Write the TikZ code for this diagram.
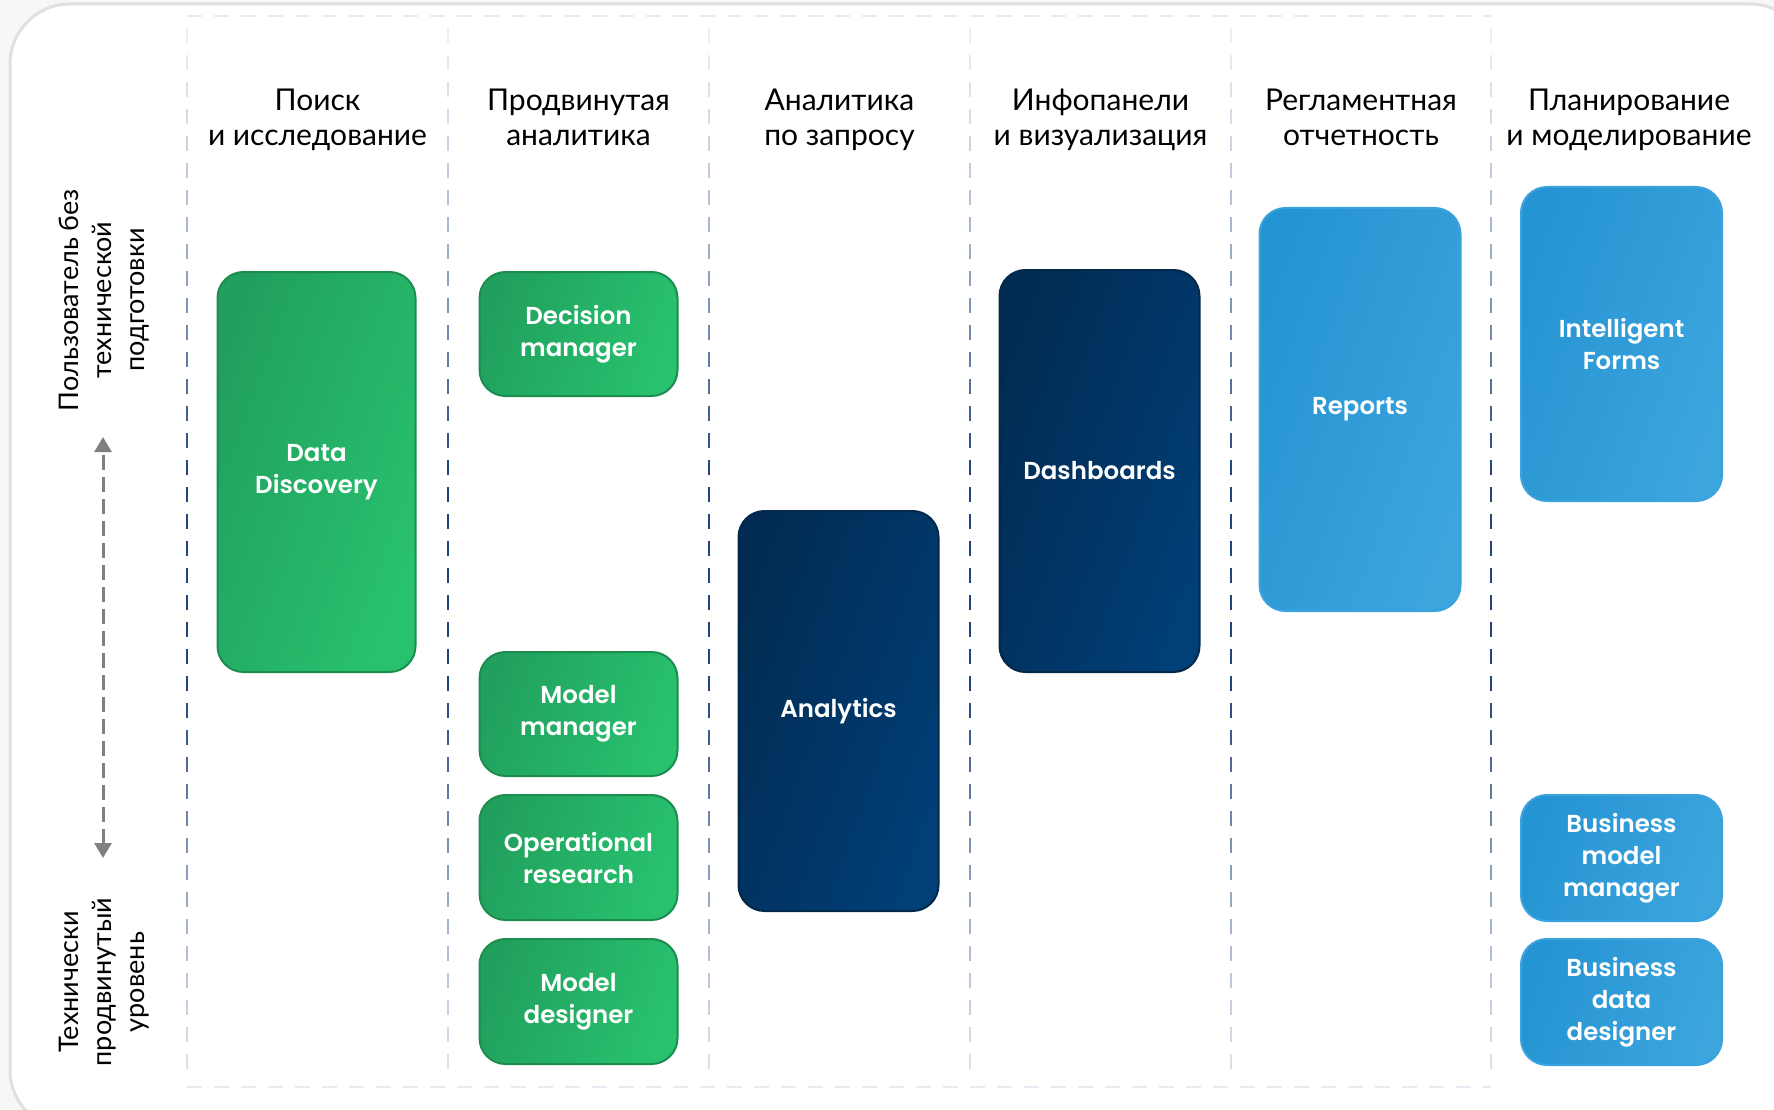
\documentclass[tikz,border=0pt]{standalone}
\usepackage{fontspec}
\setmainfont{Lato}
\newfontfamily\boxfont{Poppins SemiBold}
\usetikzlibrary{arrows.meta}
\definecolor{pagebg}{HTML}{F7F7F7}
\definecolor{cardline}{HTML}{E0E0E0}
\definecolor{faint}{HTML}{E6EAF1}
\definecolor{divdark}{HTML}{23457A}
\definecolor{divlight}{HTML}{EBEFF5}
\definecolor{greenA}{HTML}{21A05D}
\definecolor{greenB}{HTML}{28C26F}
\definecolor{greenE}{HTML}{1D8C4F}
\definecolor{navyA}{HTML}{012B52}
\definecolor{navyB}{HTML}{013F77}
\definecolor{navyE}{HTML}{02284A}
\definecolor{blueA}{HTML}{2594D2}
\definecolor{blueB}{HTML}{3CA5DE}
\definecolor{blueE}{HTML}{3AA2DC}
\definecolor{arrgray}{HTML}{808080}
\tikzset{
  hdr/.style={align=center, text=black, font=\fontsize{30}{35}\selectfont},
  sidetext/.style={align=center, text=black, rotate=90, font=\fontsize{27}{33}\selectfont},
  card/.style={rounded corners=26pt, line width=2pt, align=center, text=white,
    font=\boxfont\fontsize{24.5}{32}\selectfont, inner sep=0pt, shading angle=70},
  greenbox/.style={card, draw=greenE, left color=greenA, right color=greenB, shading angle=70, minimum width=198pt},
  navybox/.style={card, draw=navyE, left color=navyA, right color=navyB, shading angle=70, minimum width=200pt},
  bluebox/.style={card, draw=blueE, left color=blueA, right color=blueB, shading angle=70, minimum width=201pt},
  faintline/.style={faint, line width=2pt, dash pattern=on 15pt off 12pt},
  levelarrow/.style={arrgray, line width=3pt, dash pattern=on 15pt off 7pt,
    {Triangle[width=17pt,length=15pt]}-{Triangle[width=17pt,length=15pt]}}
}
\begin{document}
\begin{tikzpicture}[x=1pt,y=-1pt]
\useasboundingbox (0,0) rectangle (1774,1110);
\fill[pagebg] (0,0) rectangle (1774,1110);
\draw[cardline, line width=3pt, fill=white, rounded corners=60pt] (10,4) rectangle (1810,1130);

% faint horizontal dashes
\draw[faintline] (187,16) -- (1491,16);
\draw[faintline] (187,1087) -- (1491,1087);

% gradient dashed dividers
\foreach \x in {187,448,709,970,1231,1491}{
  \foreach \i in {0,...,38}{
    \pgfmathsetmacro\ya{28+27*\i}
    \pgfmathsetmacro\yb{\ya+15}
    \pgfmathsetmacro\u{min(1,max(0,1.25*(1-abs(\ya+7-580)/560)))}
    \pgfmathtruncatemacro\t{100*\u^1.4}
    \draw[line width=2.5pt, color=divdark!\t!divlight] (\x,\ya) -- (\x,\yb);
  }
}

% column headers
\node[hdr] (h1) at (317.5,121.5) {Поиск\strut\\и исследование\strut};
\node[hdr] (h2) at (578.5,121.5) {Продвинутая\strut\\аналитика\strut};
\node[hdr] (h3) at (839.5,121.5) {Аналитика\strut\\по запросу\strut};
\node[hdr] (h4) at (1100.5,121.5) {Инфопанели\strut\\и визуализация\strut};
\node[hdr] (h5) at (1361,121.5) {Регламентная\strut\\отчетность\strut};
\node[hdr] (h6) at (1629,121.5) {Планирование\strut\\и моделирование\strut};

% side labels
\node[sidetext] (novice) at (104,300) {Пользователь без\\технической\\подготовки};
\node[sidetext] (expert) at (104,982) {Технически\\продвинутый\\уровень};
\coordinate (arrtop) at (103,437);
\coordinate (arrbot) at (103,858);
\draw[levelarrow] (arrbot) -- (arrtop);

% boxes
\node[greenbox, minimum height=400pt] (dd) at (316.5,472) {Data\\Discovery};
\node[greenbox, minimum height=124pt] (decm) at (578.5,334) {Decision\\manager};
\node[greenbox, minimum height=124pt] (modm) at (578.5,714) {Model\\manager};
\node[greenbox, minimum height=125pt] (opr) at (578.5,857.5) {Operational\\research};
\node[greenbox, minimum height=125pt] (modd) at (578.5,1001.5) {Model\\designer};
\node[navybox, minimum height=400pt] (ana) at (838.5,711) {Analytics};
\node[navybox, minimum height=402pt] (dash) at (1099.5,471) {Dashboards};
\node[bluebox, minimum height=403pt] (rep) at (1360,409.5) {Reports};
\node[bluebox, minimum height=314pt] (intf) at (1621.5,344) {Intelligent\\Forms};
\node[bluebox, minimum height=126pt] (bmm) at (1621.5,858) {Business\\model\\manager};
\node[bluebox, minimum height=126pt] (bdd) at (1621.5,1002) {Business\\data\\designer};
\end{tikzpicture}
\end{document}
